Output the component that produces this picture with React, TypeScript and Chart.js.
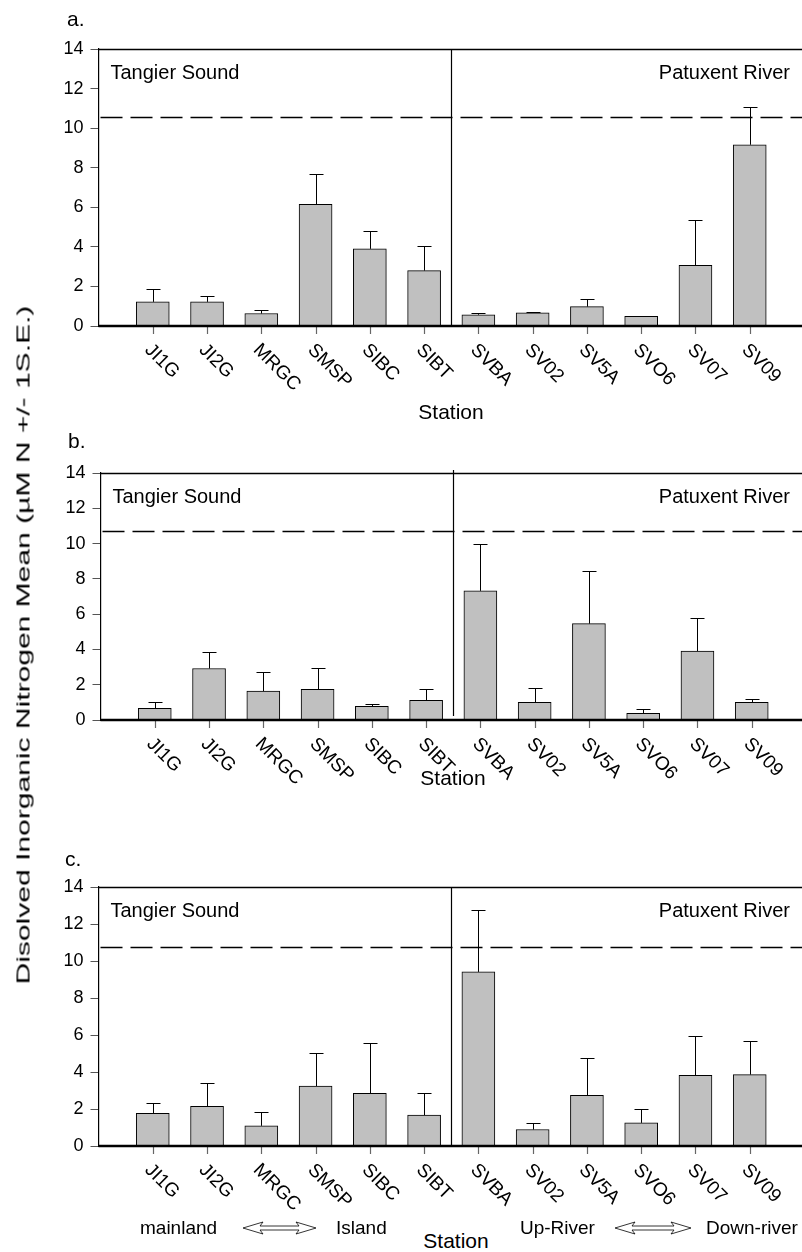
import React, { useEffect, useRef } from "react";
import { Chart, registerables } from "chart.js";
Chart.register(...registerables);

const FONT = '"Liberation Sans", Arial, sans-serif';

const stations = ["JI1G", "JI2G", "MRGC", "SMSP", "SIBC", "SIBT", "SVBA", "SV02", "SV5A", "SVO6", "SV07", "SV09"];
const yTicks = [0, 2, 4, 6, 8, 10, 12, 14];

const meanA = [1.22, 1.22, 0.63, 6.15, 3.9, 2.8, 0.57, 0.66, 0.98, 0.49, 3.07, 9.16];
const seA = [0.67, 0.3, 0.18, 1.55, 0.91, 1.24, 0.09, 0.05, 0.39, 0.03, 2.28, 1.89];
const dashA = 10.57;

const meanB = [0.66, 2.92, 1.64, 1.74, 0.77, 1.11, 7.32, 1.0, 5.46, 0.38, 3.91, 1.0];
const seB = [0.36, 0.95, 1.06, 1.22, 0.12, 0.63, 2.68, 0.79, 2.98, 0.22, 1.89, 0.2];
const dashB = 10.73;

const meanC = [1.76, 2.15, 1.09, 3.24, 2.85, 1.67, 9.41, 0.89, 2.74, 1.25, 3.82, 3.86];
const seC = [0.57, 1.27, 0.75, 1.81, 2.7, 1.19, 3.35, 0.38, 2.03, 0.73, 2.13, 1.8];
const dashC = 10.77;

const leftRegion = "Tangier Sound";
const rightRegion = "Patuxent River";

type PanelProps = {
  mean: number[];
  se: number[];
  dash: number;
  top: number;
  bottom: number;
  left: number;
  right: number;
  dividerExtend: number;
};

function Panel({ mean, se, dash, top, bottom, left, right, dividerExtend }: PanelProps) {
  const ref = useRef<HTMLCanvasElement | null>(null);
  const padTop = 25;
  const padBottom = 75;
  const canvasTop = top - padTop;
  const height = bottom + padBottom - canvasTop;
  const width = 812;

  useEffect(() => {
    if (!ref.current) return;
    const decor = {
      id: "decor",
      afterDatasetsDraw(chart: any) {
        const { ctx, chartArea: ca, scales } = chart;
        const x = scales.x;
        const y = scales.y;
        ctx.save();
        // error bars
        ctx.strokeStyle = "#000";
        ctx.lineWidth = 1;
        mean.forEach((m, i) => {
          const px = Math.round(x.getPixelForValue(i + 1)) + 0.5;
          const y0 = y.getPixelForValue(m);
          const y1 = Math.round(y.getPixelForValue(m + se[i])) + 0.5;
          ctx.beginPath();
          ctx.moveTo(px, y0);
          ctx.lineTo(px, y1);
          ctx.moveTo(px - 7, y1);
          ctx.lineTo(px + 7, y1);
          ctx.stroke();
        });
        // top frame
        ctx.beginPath();
        ctx.lineWidth = 1.3;
        ctx.moveTo(ca.left, Math.round(ca.top) + 0.5);
        ctx.lineTo(ca.right, Math.round(ca.top) + 0.5);
        ctx.stroke();
        // divider
        const dx = Math.round(x.getPixelForValue(6.5)) + 0.5;
        ctx.beginPath();
        ctx.lineWidth = 1.2;
        ctx.moveTo(dx, ca.top - dividerExtend);
        ctx.lineTo(dx, ca.bottom - (dividerExtend > 0 ? 4 : 0));
        ctx.stroke();
        // dashed line
        const dy = Math.round(y.getPixelForValue(dash)) + 0.5;
        ctx.beginPath();
        ctx.setLineDash([22, 8]);
        ctx.lineWidth = 1.6;
        ctx.moveTo(ca.left + 2, dy);
        ctx.lineTo(ca.right, dy);
        ctx.stroke();
        ctx.setLineDash([]);
        // x tick marks
        ctx.strokeStyle = "#666";
        ctx.lineWidth = 1.2;
        stations.forEach((_, i) => {
          const px = Math.round(x.getPixelForValue(i + 1)) + 0.5;
          ctx.beginPath();
          ctx.moveTo(px, ca.bottom);
          ctx.lineTo(px, ca.bottom + 8);
          ctx.stroke();
        });
        // bottom axis
        ctx.strokeStyle = "#000";
        ctx.lineWidth = 2.5;
        ctx.beginPath();
        ctx.moveTo(ca.left, ca.bottom);
        ctx.lineTo(ca.right, ca.bottom);
        ctx.stroke();
        // x labels rotated
        ctx.fillStyle = "#000";
        ctx.font = `19px ${FONT}`;
        ctx.textAlign = "left";
        ctx.textBaseline = "middle";
        stations.forEach((s, i) => {
          const px = x.getPixelForValue(i + 1);
          ctx.save();
          ctx.translate(px - 5, ca.bottom + 21);
          ctx.rotate(Math.PI / 4);
          ctx.fillText(s, 0, 0);
          ctx.restore();
        });
        // region labels
        ctx.font = `20px ${FONT}`;
        ctx.textBaseline = "middle";
        ctx.textAlign = "left";
        ctx.fillText(leftRegion, ca.left + 12, ca.top + 24);
        ctx.textAlign = "right";
        ctx.fillText(rightRegion, 790, ca.top + 24);
        ctx.restore();
      },
    };

    const chart = new Chart(ref.current, {
      type: "bar",
      data: {
        datasets: [
          {
            data: stations.map((s, i) => ({ x: i + 1, y: mean[i] })),
            backgroundColor: "#c0c0c0",
            borderColor: "#000",
            borderWidth: 1,
            barThickness: 33,
          },
        ],
      },
      options: {
        responsive: false,
        animation: false,
        devicePixelRatio: 1,
        layout: { padding: { top: padTop, bottom: padBottom, left: 0, right: width - right } },
        plugins: { legend: { display: false }, tooltip: { enabled: false } },
        scales: {
          x: { type: "linear", min: 0, max: 13, offset: false, display: false },
          y: {
            min: 0,
            max: 14,
            afterFit: (s: any) => {
              s.width = left;
            },
            afterBuildTicks: (s: any) => {
              s.ticks = yTicks.map((v) => ({ value: v }));
            },
            ticks: { color: "#000", font: { family: FONT, size: 18 }, padding: 7 },
            grid: { drawOnChartArea: false, drawTicks: true, tickLength: 8, color: "#555" },
            border: { display: true, color: "#000", width: 1.2 },
          },
        },
      },
      plugins: [decor],
    } as any);
    return () => chart.destroy();
  }, []);

  return (
    <canvas
      ref={ref}
      width={width}
      height={height}
      style={{ position: "absolute", left: 0, top: canvasTop, width, height }}
    />
  );
}

const txt = (s: React.CSSProperties): React.CSSProperties => ({
  position: "absolute",
  fontFamily: FONT,
  color: "#000",
  whiteSpace: "nowrap",
  lineHeight: 1,
  ...s,
});

function Arrow({ left, top, w }: { left: number; top: number; w: number }) {
  const h = 12;
  const m = h / 2;
  const hl = 20;
  const pts = `0,${m} ${hl},0 ${hl - 3},${m - 2} ${w - hl + 3},${m - 2} ${w - hl},0 ${w},${m} ${w - hl},${h} ${w - hl + 3},${m + 2} ${hl - 3},${m + 2} ${hl},${h}`;
  return (
    <svg style={{ position: "absolute", left, top }} width={w + 2} height={h + 2}>
      <polygon points={pts} transform="translate(1,1)" fill="none" stroke="#000" strokeWidth={0.8} />
    </svg>
  );
}

export default function App() {
  return (
    <div style={{ position: "absolute", left: 0, top: 0, width: 802, height: 1252, overflow: "hidden", background: "#fff" }}>
      <Panel mean={meanA} se={seA} dash={dashA} top={49} bottom={326} left={98.5} right={804} dividerExtend={0} />
      <Panel mean={meanB} se={seB} dash={dashB} top={473} bottom={720} left={100.5} right={806} dividerExtend={3} />
      <Panel mean={meanC} se={seC} dash={dashC} top={887} bottom={1146} left={98.5} right={804} dividerExtend={0} />

      <div style={txt({ left: 67, top: 8, fontSize: 21 })}>a.</div>
      <div style={txt({ left: 68, top: 430, fontSize: 21 })}>b.</div>
      <div style={txt({ left: 65, top: 848, fontSize: 21 })}>c.</div>

      <div style={txt({ left: 451, top: 411, fontSize: 21, transform: "translate(-50%,-50%)" })}>Station</div>
      <div style={txt({ left: 453, top: 777, fontSize: 21, transform: "translate(-50%,-50%)" })}>Station</div>
      <div style={txt({ left: 456, top: 1240, fontSize: 21, transform: "translate(-50%,-50%)" })}>Station</div>

      <div style={txt({ left: 140, top: 1218, fontSize: 19 })}>mainland</div>
      <Arrow left={242} top={1221} w={73} />
      <div style={txt({ left: 336, top: 1218, fontSize: 19 })}>Island</div>
      <div style={txt({ left: 520, top: 1218, fontSize: 19 })}>Up-River</div>
      <Arrow left={614} top={1221} w={76} />
      <div style={txt({ left: 706, top: 1218, fontSize: 19 })}>Down-river</div>

      <div
        style={txt({
          left: 23,
          top: 645,
          fontSize: 19,
          transform: "translate(-50%,-50%) rotate(-90deg) scaleX(1.58)",
        })}
      >
        Disolved Inorganic Nitrogen Mean (µM N +/- 1S.E.)
      </div>
    </div>
  );
}
